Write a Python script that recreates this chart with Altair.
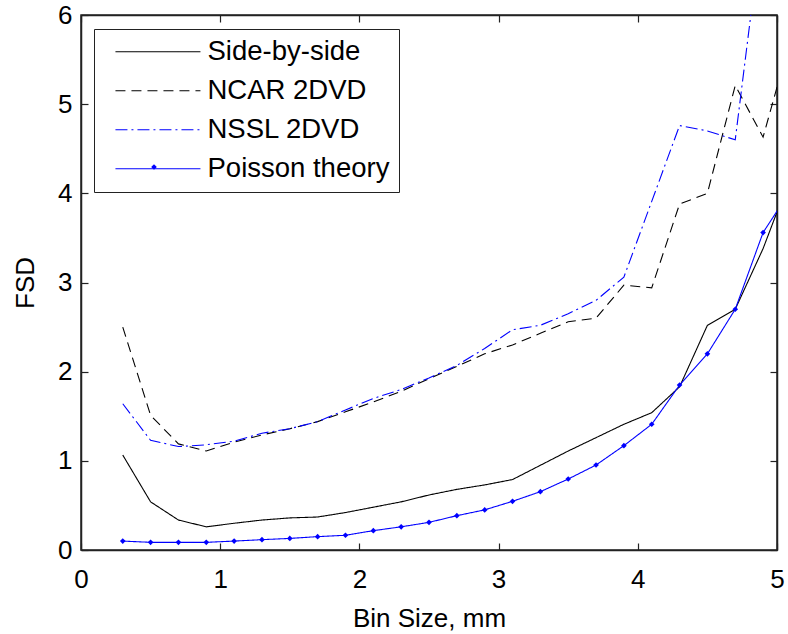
import altair as alt
import pandas as pd

bin_size = [0.3, 0.5, 0.7, 0.9, 1.1, 1.3, 1.5, 1.7, 1.9, 2.1, 2.3, 2.5, 2.7,
            2.9, 3.1, 3.3, 3.5, 3.7, 3.9, 4.1, 4.3, 4.5, 4.7, 4.9, 5.1]
side_by_side = [1.065, 0.54, 0.336, 0.26, 0.30, 0.336, 0.36, 0.37, 0.42, 0.48, 0.54,
                0.617, 0.68, 0.73, 0.79, 0.95, 1.11, 1.26, 1.41, 1.54, 1.83, 2.52,
                2.70, 3.38, 4.20]
ncar_2dvd = [2.50, 1.51, 1.19, 1.11, 1.21, 1.29, 1.36, 1.44, 1.55, 1.66, 1.78, 1.92,
             2.06, 2.20, 2.30, 2.43, 2.56, 2.60, 2.97, 2.94, 3.88, 4.00, 5.21, 4.63,
             5.75]
nssl_2dvd = [1.64, 1.23, 1.16, 1.18, 1.22, 1.31, 1.36, 1.44, 1.57, 1.70, 1.80, 1.93,
             2.07, 2.26, 2.47, 2.52, 2.65, 2.80, 3.06, 3.91, 4.76, 4.70, 4.60, 7.10,
             7.50]
poisson = [0.10, 0.086, 0.086, 0.086, 0.10, 0.116, 0.13, 0.15, 0.165, 0.217, 0.26,
           0.31, 0.385, 0.45, 0.546, 0.654, 0.796, 0.953, 1.17, 1.41, 1.85, 2.20,
           2.70, 3.56, 4.04]

series_names = ["Side-by-side", "NCAR 2DVD", "NSSL 2DVD", "Poisson theory"]
series_values = [side_by_side, ncar_2dvd, nssl_2dvd, poisson]
x_ticks = [0, 1, 2, 3, 4, 5]
y_ticks = [0, 1, 2, 3, 4, 5, 6]

rows = []
for name, vals in zip(series_names, series_values):
    for xv, yv in zip(bin_size, vals):
        rows.append({"x": xv, "y": yv, "series": name})
df = pd.DataFrame(rows)

FONT = "Liberation Sans"
BLUE = "#0000ff"
TICK = {"expr": "-7"}

line_path = "M-0.13,0L8.37,0"

legend = alt.Legend(
    title=None,
    orient="none",
    legendX=13,
    legendY=14,
    strokeColor="#222222",
    fillColor="white",
    padding=9,
    rowPadding=10,
    labelFont=FONT,
    labelFontSize=27.5,
    labelColor="black",
    labelOffset=77,
    labelLimit=400,
    symbolSize=400,
    symbolStrokeWidth=1.1,
    symbolType=line_path,
    symbolOpacity=1,
)

marker_legend = alt.Legend(
    title=None,
    orient="none",
    legendX=70,
    legendY=149,
    padding=0,
    labelExpr="''",
    labelFontSize=1,
    labelOffset=0,
    symbolSize=32,
    symbolType="diamond",
    symbolFillColor=BLUE,
    symbolStrokeColor=BLUE,
    symbolStrokeWidth=0,
    symbolOpacity=1,
)

x_scale = alt.Scale(domain=[0, 5], nice=False, zero=False)
y_scale = alt.Scale(domain=[0, 6], nice=False, zero=False)

lines = alt.Chart(df).mark_line(clip=True, strokeWidth=1.1).encode(
    x=alt.X("x:Q", scale=x_scale,
            axis=alt.Axis(orient="bottom", values=x_ticks, format="d", title="Bin Size, mm",
                          tickSize=TICK, labelPadding=23, titlePadding=13)),
    y=alt.Y("y:Q", scale=y_scale,
            axis=alt.Axis(orient="left", values=y_ticks, format="d", title="FSD",
                          tickSize=TICK, labelPadding=16, titlePadding=19)),
    color=alt.Color("series:N",
                    scale=alt.Scale(domain=series_names,
                                    range=["black", "black", BLUE, BLUE]),
                    legend=legend),
    strokeDash=alt.StrokeDash("series:N",
                              scale=alt.Scale(domain=series_names,
                                              range=[[1, 0], [10, 6], [12, 4, 2, 4], [1, 0]]),
                              legend=legend),
)

points = alt.Chart(df).transform_filter(
    alt.datum.series == "Poisson theory"
).mark_point(clip=True, filled=True, size=32, color=BLUE, opacity=1).encode(
    x=alt.X("x:Q", scale=x_scale,
            axis=alt.Axis(orient="top", values=x_ticks, labels=False, title=None, tickSize=TICK)),
    y=alt.Y("y:Q", scale=y_scale,
            axis=alt.Axis(orient="right", values=y_ticks, labels=False, title=None, tickSize=TICK)),
    shape=alt.Shape("series:N",
                    scale=alt.Scale(domain=["Poisson theory"], range=["diamond"]),
                    legend=marker_legend),
)

chart = alt.layer(lines, points).resolve_axis(
    x="independent", y="independent"
).properties(
    width=696,
    height=535,
    background="white",
    autosize=alt.AutoSizeParams(type="none"),
    padding={"left": 81, "top": 15, "right": 11, "bottom": 84},
).configure_view(
    stroke="#222222", strokeWidth=1.5
).configure_axis(
    grid=False,
    domainColor="#222222",
    domainWidth=1.5,
    tickColor="#222222",
    tickWidth=1.2,
    labelFont=FONT,
    labelFontSize=26,
    labelColor="black",
    labelFlush=False,
    labelOverlap=False,
    titleFont=FONT,
    titleFontSize=26,
    titleFontWeight="normal",
    titleColor="black",
)

chart.save("out.html", embed_options={"renderer": "svg", "actions": False})
